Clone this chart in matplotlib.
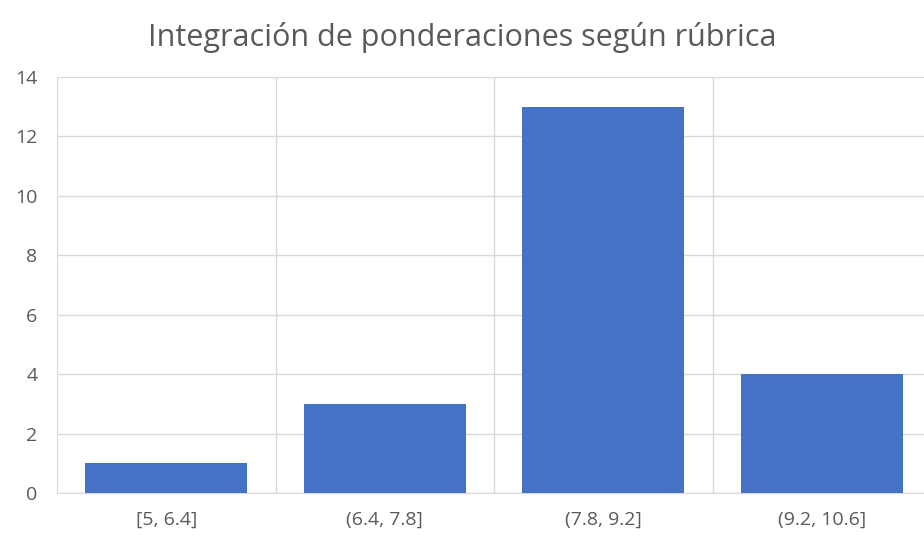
import matplotlib
matplotlib.use("Agg")
import matplotlib.pyplot as plt
import numpy as np

categories = ["[5, 6.4]", "(6.4, 7.8]", "(7.8, 9.2]", "(9.2, 10.6]"]
counts = [1, 3, 13, 4]
title = "Integración de ponderaciones según rúbrica"

plt.rcParams['font.family'] = ['Open Sans', 'DejaVu Sans']
grid_c = "#d9d9d9"
text_c = "#595959"

fig = plt.figure(figsize=(9.24, 5.42), dpi=100)
ax = fig.add_axes([57/924, 1-493/542, 874/924, (493-77)/542])
x = np.arange(len(categories))
ax.bar(x, counts, width=0.74, color="#4472C4", zorder=3)
ax.set_xlim(-0.5, len(categories) - 0.5)
ax.set_ylim(0, 14)
ax.set_yticks(np.arange(0, 15, 2))
ax.set_xticks(x)
ax.set_xticklabels(categories)
ax.set_xticks(np.arange(0.5, len(categories) - 0.5, 1), minor=True)
ax.grid(axis='y', which='major', color=grid_c, linewidth=1, zorder=0)
ax.grid(axis='x', which='minor', color=grid_c, linewidth=1, zorder=0)
ax.tick_params(axis='both', which='both', length=0, colors=text_c, labelsize=14)
ax.tick_params(axis='x', pad=13)
ax.tick_params(axis='y', pad=14)
for s in ['top', 'right']:
    ax.spines[s].set_visible(False)
ax.spines['left'].set_color(grid_c)
ax.spines['bottom'].set_color(grid_c)
ax.spines['left'].set_zorder(0)
fig.text(0.5, 1-38/542, title, ha='center', va='center', fontsize=22, color=text_c)
fig.savefig("out.png", dpi=100, facecolor='white')
